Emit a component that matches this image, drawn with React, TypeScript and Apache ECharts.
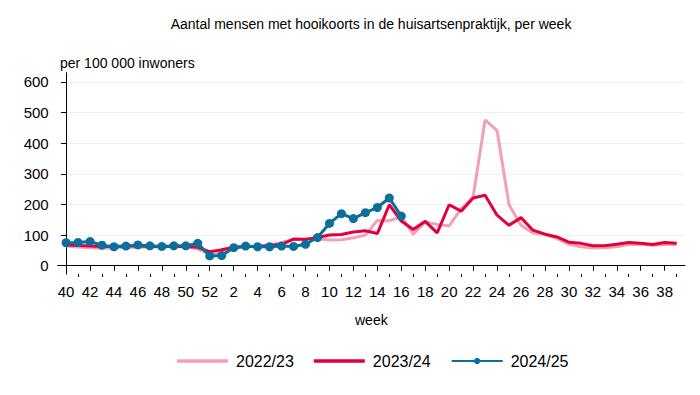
import React, { useEffect, useRef } from "react";
import * as echarts from "echarts";

const weeks: number[] = [
  40, 41, 42, 43, 44, 45, 46, 47, 48, 49, 50, 51, 52,
  1, 2, 3, 4, 5, 6, 7, 8, 9, 10, 11, 12, 13, 14, 15, 16, 17, 18, 19, 20,
  21, 22, 23, 24, 25, 26, 27, 28, 29, 30, 31, 32, 33, 34, 35, 36, 37, 38, 39,
];

const season2022: number[] = [
  64, 61, 59, 57, 58, 60, 60, 61, 62, 62, 62, 55, 38,
  46, 56, 62, 64, 68, 76, 86, 88, 88, 84, 85, 91, 100, 148, 147, 160, 103, 143, 135, 130,
  186, 224, 476, 441, 199, 132, 107, 103, 89, 70, 62, 58, 59, 62, 69, 70, 67, 69, 69,
];

const season2023: number[] = [
  68, 66, 64, 63, 63, 64, 64, 63, 63, 63, 63, 60, 46,
  52, 60, 63, 63, 66, 70, 87, 86, 92, 100, 102, 110, 114, 105, 199, 146, 118, 145, 107, 199,
  178, 221, 230, 165, 132, 157, 116, 103, 94, 77, 73, 65, 65, 70, 76, 73, 69, 76, 73,
];

const season2024: number[] = [
  75, 76, 79, 67, 62, 64, 68, 65, 63, 65, 65, 73, 32,
  33, 59, 64, 62, 62, 64, 63, 70, 92, 138, 170, 154, 173, 190, 221, 162,
];

const seriesNames: string[] = ["2022/23", "2023/24", "2024/25"];
const yTicks: number[] = [0, 100, 200, 300, 400, 500, 600];

const FONT = "Arial, 'Liberation Sans', Helvetica, sans-serif";
const BAR_ICON = "path://M0,0L51,0L51,3.6L0,3.6Z";

export default function App() {
  const ref = useRef<HTMLDivElement>(null);

  useEffect(() => {
    document.body.style.margin = "0";
    if (!ref.current) return;
    const chart = echarts.init(ref.current, undefined, { renderer: "svg" });

    const idx = weeks.map((_, i) => i);
    const evenIdx = idx.filter((i) => i % 2 === 0);
    const oddIdx = idx.filter((i) => i % 2 === 1);
    const toPairs = (arr: number[]) => arr.map((v, i) => [i, v]);

    const xBase = {
      type: "value" as const,
      min: -0.7,
      max: 51.7,
      position: "bottom" as const,
      splitLine: { show: false },
    };

    chart.setOption({
      animation: false,
      backgroundColor: "#ffffff",
      textStyle: { fontFamily: FONT },
      graphic: [
        {
          type: "text",
          x: 371,
          y: 24,
          style: {
            text: "Aantal mensen met hooikoorts in de huisartsenpraktijk, per week",
            align: "center",
            verticalAlign: "middle",
            fontSize: 14,
            fontFamily: FONT,
            fill: "#000000",
          },
        },
        {
          type: "text",
          x: 60,
          y: 63,
          style: {
            text: "per 100 000 inwoners",
            align: "left",
            verticalAlign: "middle",
            fontSize: 14,
            fontFamily: FONT,
            fill: "#000000",
          },
        },
      ],
      grid: { left: 57.7, right: 15, top: 72.7, bottom: 121, containLabel: false },
      legend: {
        data: [
          { name: seriesNames[0], icon: BAR_ICON },
          { name: seriesNames[1], icon: BAR_ICON },
          { name: seriesNames[2] },
        ],
        left: 177,
        top: 353,
        padding: 0,
        itemWidth: 51,
        itemHeight: 8,
        itemGap: 20,
        textStyle: { fontSize: 16, color: "#000000", fontFamily: FONT, padding: [0, 0, 0, 3] },
      },
      xAxis: [
        {
          ...xBase,
          name: "week",
          nameLocation: "middle",
          nameGap: 39,
          nameTextStyle: { fontSize: 14, color: "#000000", fontFamily: FONT },
          axisLine: { show: true, lineStyle: { color: "#000000", width: 1 } },
          axisTick: { show: true, customValues: evenIdx, length: 5, lineStyle: { color: "#000000" } },
          axisLabel: {
            customValues: evenIdx,
            margin: 10,
            fontSize: 15,
            color: "#000000",
            fontFamily: FONT,
            formatter: (v: number) => String(weeks[Math.round(v)] ?? ""),
          },
        },
        {
          ...xBase,
          axisLine: { show: false },
          axisTick: { show: true, customValues: oddIdx, length: 3, lineStyle: { color: "#000000" } },
          axisLabel: { show: false },
        },
      ],
      yAxis: {
        type: "value",
        min: -27,
        max: 630,
        axisLine: { show: true, lineStyle: { color: "#000000", width: 1 } },
        axisTick: { show: true, customValues: yTicks, length: 5, lineStyle: { color: "#000000" } },
        axisLabel: { customValues: yTicks, margin: 9, fontSize: 15, color: "#000000", fontFamily: FONT },
        splitLine: { show: true, lineStyle: { color: "#edf3f3", width: 1 } },
      },
      series: [
        {
          name: seriesNames[0],
          type: "line",
          data: toPairs(season2022),
          symbol: "none",
          lineStyle: { color: "#f2a1b4", width: 3 },
          itemStyle: { color: "#f2a1b4" },
          z: 2,
        },
        {
          name: seriesNames[1],
          type: "line",
          data: toPairs(season2023),
          symbol: "none",
          lineStyle: { color: "#e2003c", width: 3 },
          itemStyle: { color: "#e2003c" },
          z: 3,
        },
        {
          name: seriesNames[2],
          type: "line",
          data: toPairs(season2024),
          symbol: "circle",
          symbolSize: 9,
          showSymbol: true,
          lineStyle: { color: "#0b6f9b", width: 3 },
          itemStyle: { color: "#0b6f9b" },
          z: 4,
        },
      ],
    });

    return () => chart.dispose();
  }, []);

  return <div ref={ref} style={{ width: 700, height: 395 }} />;
}
